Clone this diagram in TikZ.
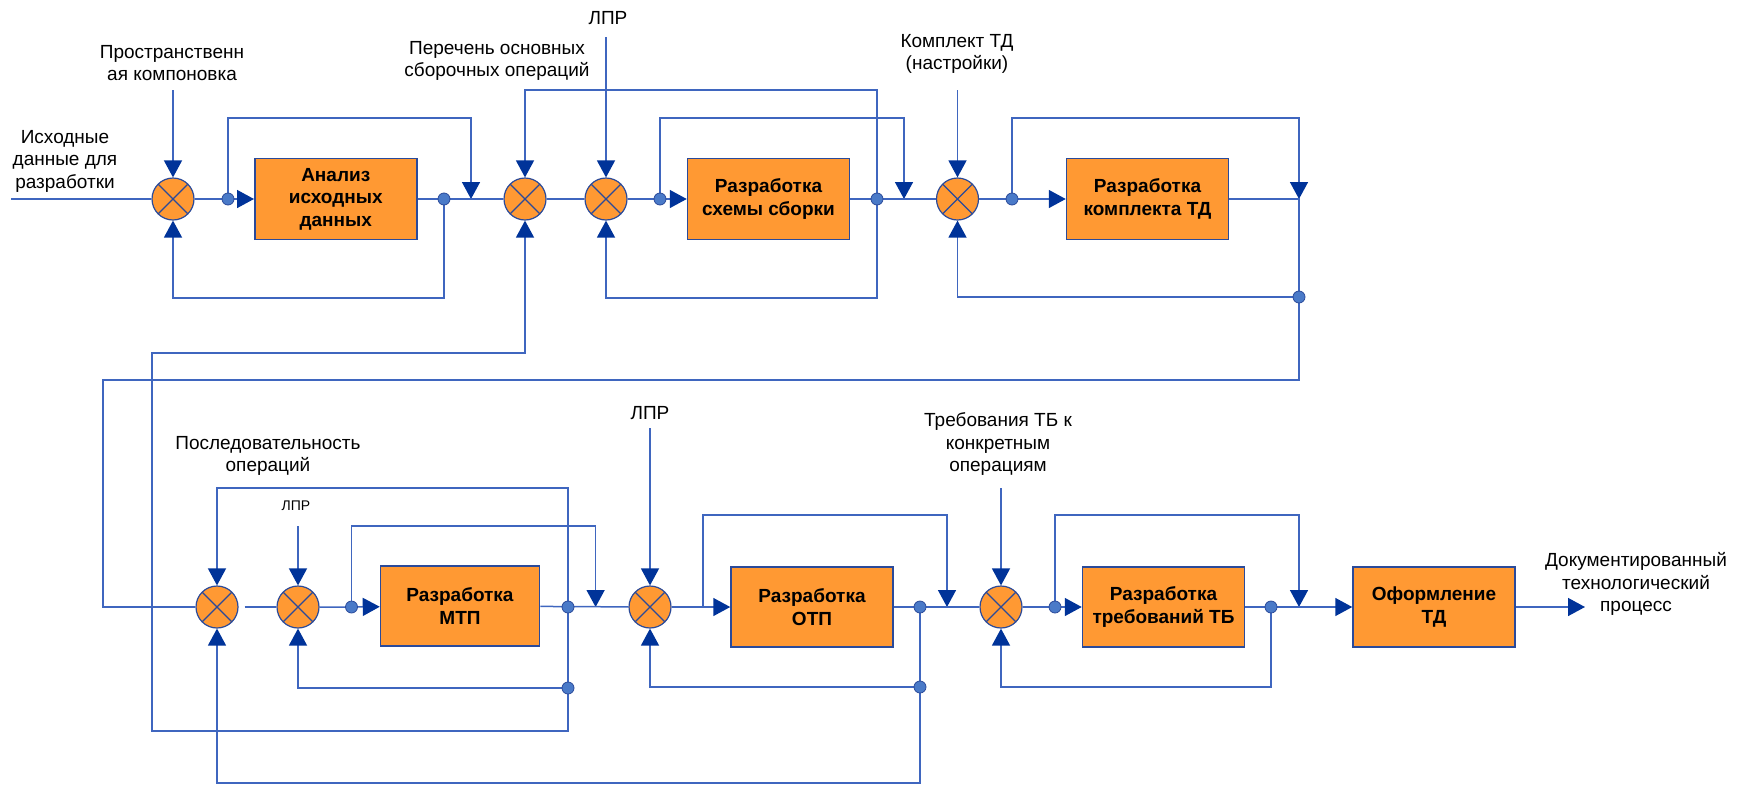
\documentclass[tikz,border=0pt]{standalone}
\usepackage{fontspec}
\setmainfont{Liberation Sans}
\usetikzlibrary{arrows.meta,backgrounds}

\definecolor{wirecol}{HTML}{3F66BF}
\definecolor{tipblue}{HTML}{003399}
\definecolor{boxorange}{HTML}{FF9933}
\definecolor{edgeblue}{HTML}{2A4A9A}
\definecolor{dotblue}{HTML}{4A7AC8}

\tikzset{
  wire/.style={draw=wirecol, line width=1.5pt},
  feed/.style={wire, -{Triangle[length=17pt,width=18pt,color=tipblue]}},
  mixer/.style={circle, minimum size=42pt, inner sep=0pt, fill=boxorange,
    draw=edgeblue, line width=1.2pt,
    path picture={\draw[edgeblue, line width=1.2pt]
      (path picture bounding box.north west) -- (path picture bounding box.south east)
      (path picture bounding box.north east) -- (path picture bounding box.south west);}},
  stagebox/.style={rectangle, minimum width=162pt, minimum height=81pt, fill=boxorange,
    draw=edgeblue, line width=1.5pt, align=center, inner sep=0pt,
    font=\fontsize{19}{22.5}\selectfont\bfseries},
  lbl/.style={font=\fontsize{19}{22.5}\selectfont, align=center, inner sep=0pt},
  smalllbl/.style={font=\fontsize{14}{17}\selectfont, align=center, inner sep=0pt},
  tapdot/.style={circle, minimum size=12pt, inner sep=0pt, fill=dotblue,
    draw=edgeblue, line width=0.8pt},
}

\begin{document}
\begin{tikzpicture}[x=1pt, y=-1pt]
\useasboundingbox (0,0) rectangle (1748,785);

% ---------- upper chain ----------
\node[mixer] (C1) at (173,199) {};
\node[mixer] (C2) at (525,199) {};
\node[mixer] (C3) at (606,199) {};
\node[mixer] (C4) at (957.5,199) {};
\node[stagebox] (B1) at (335.75,199) {Анализ\\исходных\\данных};
\node[stagebox] (B2) at (768.5,199) {Разработка\\схемы сборки};
\node[stagebox] (B3) at (1147.5,199) {Разработка\\комплекта ТД};

% ---------- lower chain ----------
\node[mixer] (L1) at (217,607) {};
\node[mixer] (L2) at (298,607) {};
\node[mixer] (L3) at (650,607) {};
\node[mixer] (L4) at (1001,607) {};
\node[stagebox, minimum width=159pt, minimum height=80pt] (M1) at (460,606) {Разработка\\МТП};
\node[stagebox, minimum height=80pt] (M2) at (812,607) {Разработка\\ОТП};
\node[stagebox, minimum height=80pt] (M3) at (1163.5,607) {Разработка\\требований ТБ};
\node[stagebox, minimum height=80pt] (M4) at (1434,607) {Оформление\\ТД};

% ---------- labels ----------
\node[lbl] (lsrc) at (65,161) {Исходные\\данные для\\разработки};
\node[lbl] (llay) at (172,63) {Пространственн\\ая компоновка};
\node[lbl] (lops) at (497,61) {Перечень основных\\сборочных операций};
\node[lbl] (ldm1) at (608,18) {ЛПР};
\node[lbl] (lkit) at (957,54) {Комплект ТД\\(настройки)};
\node[lbl] (lseq) at (268,456) {Последовательность\\операций};
\node[smalllbl] (ldm2) at (296,506) {ЛПР};
\node[lbl] (ldm3) at (650,413) {ЛПР};
\node[lbl] (lsafe) at (998,444) {Требования ТБ к\\конкретным\\операциям};
\node[lbl] (lres) at (1636,584) {Документированный\\технологический\\процесс};

% ---------- junction points ----------
\coordinate (src) at (11,199);
\coordinate (i1) at (173,90);
\coordinate (i3) at (606,37);
\coordinate (i4) at (957.5,90);
\coordinate (d1) at (228,199);
\coordinate (d2) at (444,199);
\coordinate (t1) at (471,199);
\coordinate (d3) at (660,199);
\coordinate (d4) at (877,199);
\coordinate (t2) at (904,199);
\coordinate (d5) at (1012,199);
\coordinate (t3) at (1299,199);
\coordinate (d6) at (1299,297);
\coordinate (k1) at (1299,380);
\coordinate (k2) at (103,380);

\coordinate (i5) at (298,526);
\coordinate (i6) at (650,428);
\coordinate (i7) at (1001,488);
\coordinate (e1) at (351.5,607);
\coordinate (e2) at (568,607);
\coordinate (e3) at (568,688);
\coordinate (t4) at (595.6,607);
\coordinate (j1) at (703,607);
\coordinate (e4) at (920,607);
\coordinate (e5) at (920,687);
\coordinate (t5) at (947,607);
\coordinate (e6) at (1055,607);
\coordinate (e7) at (1271,607);
\coordinate (t6) at (1299,607);
\coordinate (out) at (1585,607);

% ---------- upper connectors ----------
\draw[wire] (src) -- (C1);
\draw[feed] (i1) -- (C1);
\draw[feed] (C1) -- (d1) -- (B1);
\draw[feed] (d1) -- (228,118) -| (t1);
\draw[wire] (B1) -- (C2);
\draw[feed] (d2) -- (444,298) -| (C1);
\draw[wire] (C2) -- (C3);
\draw[feed] (i3) -- (C3);
\draw[feed] (C3) -- (d3) -- (B2);
\draw[feed] (d3) -- (660,118) -| (t2);
\draw[wire] (B2) -- (C4);
\draw[feed] (d4) -- (877,90) -| (C2);
\draw[feed] (d4) -- (877,298) -| (C3);
\draw[feed] (i4) -- (C4);
\draw[feed] (C4) -- (d5) -- (B3);
\draw[feed] (d5) -- (1012,118) -| (t3);
\draw[wire] (B3) -- (t3) -- (d6) -- (k1) -- (k2) |- (L1);
\draw[feed] (d6) -| (C4);

% ---------- lower connectors ----------
\draw[feed] (e2) -- (568,731) -| (152,353) -| (C2);
\draw[feed] (e2) -- (568,488) -| (L1);
\draw[feed] (e4) -- (920,783) -| (L1);
\draw[wire] ([xshift=6pt]L1.east) -- (L2);
\draw[feed] (i5) -- (L2);
\draw[feed] (e3) -| (L2);
\draw[feed] (L2) -- (e1) -- (M1);
\draw[feed] (e1) -- (351.5,526) -| (t4);
\draw[wire] (M1) -- (L3);
\draw[feed] (i6) -- (L3);
\draw[feed] (L3) -- (M2);
\draw[feed] (j1) -- (703,515) -| (t5);
\draw[wire] (M2) -- (L4);
\draw[feed] (e5) -| (L3);
\draw[feed] (i7) -- (L4);
\draw[feed] (L4) -- (e6) -- (M3);
\draw[feed] (e6) -- (1055,515) -| (t6);
\draw[feed] (M3) -- (M4);
\draw[feed] (e7) -- (1271,687) -| (L4);
\draw[feed] (M4) -- (out);

% ---------- branch dots ----------
\foreach \p in {d1,d2,d3,d4,d5,d6,e1,e2,e3,e4,e5,e6,e7}
  \node[tapdot] (dot-\p) at (\p) {};
\end{tikzpicture}
\end{document}
